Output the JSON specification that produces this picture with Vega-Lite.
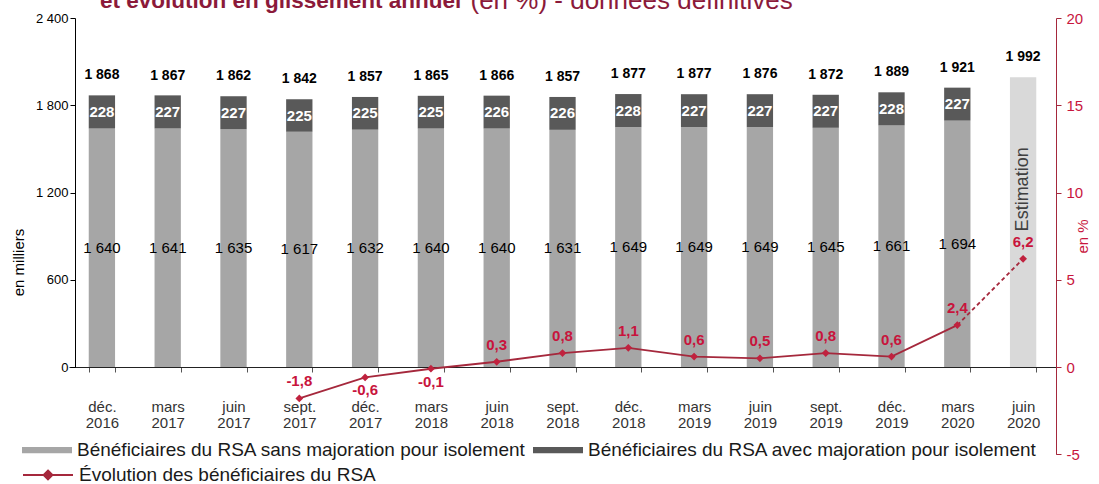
{
  "$schema": "https://vega.github.io/schema/vega-lite/v6.json",
  "width": 987,
  "height": 349,
  "autosize": "none",
  "padding": {"left": 69, "top": 18, "right": 43, "bottom": 117},
  "background": "white",
  "title": {
    "text": "et évolution en glissement annuel",
    "anchor": "start",
    "frame": "group",
    "dx": 31,
    "offset": -43,
    "baseline": "alphabetic",
    "font": "Liberation Sans",
    "fontSize": 22.5,
    "fontWeight": "bold",
    "color": "#8b1a3a"
  },
  "config": {
    "locale": {"number": {"decimal": ",", "thousands": " ", "grouping": [3], "currency": ["", " €"], "minus": "-"}},
    "view": {"stroke": null},
    "font": "Liberation Sans",
    "axis": {"grid": false}
  },
  "datasets": {
    "barres": [
      {"periode": "déc. 2016", "serie": "Bénéficiaires du RSA sans majoration pour isolement", "valeur": 1640},
      {"periode": "déc. 2016", "serie": "Bénéficiaires du RSA avec majoration pour isolement", "valeur": 228},
      {"periode": "mars 2017", "serie": "Bénéficiaires du RSA sans majoration pour isolement", "valeur": 1641},
      {"periode": "mars 2017", "serie": "Bénéficiaires du RSA avec majoration pour isolement", "valeur": 227},
      {"periode": "juin 2017", "serie": "Bénéficiaires du RSA sans majoration pour isolement", "valeur": 1635},
      {"periode": "juin 2017", "serie": "Bénéficiaires du RSA avec majoration pour isolement", "valeur": 227},
      {"periode": "sept. 2017", "serie": "Bénéficiaires du RSA sans majoration pour isolement", "valeur": 1617},
      {"periode": "sept. 2017", "serie": "Bénéficiaires du RSA avec majoration pour isolement", "valeur": 225},
      {"periode": "déc. 2017", "serie": "Bénéficiaires du RSA sans majoration pour isolement", "valeur": 1632},
      {"periode": "déc. 2017", "serie": "Bénéficiaires du RSA avec majoration pour isolement", "valeur": 225},
      {"periode": "mars 2018", "serie": "Bénéficiaires du RSA sans majoration pour isolement", "valeur": 1640},
      {"periode": "mars 2018", "serie": "Bénéficiaires du RSA avec majoration pour isolement", "valeur": 225},
      {"periode": "juin 2018", "serie": "Bénéficiaires du RSA sans majoration pour isolement", "valeur": 1640},
      {"periode": "juin 2018", "serie": "Bénéficiaires du RSA avec majoration pour isolement", "valeur": 226},
      {"periode": "sept. 2018", "serie": "Bénéficiaires du RSA sans majoration pour isolement", "valeur": 1631},
      {"periode": "sept. 2018", "serie": "Bénéficiaires du RSA avec majoration pour isolement", "valeur": 226},
      {"periode": "déc. 2018", "serie": "Bénéficiaires du RSA sans majoration pour isolement", "valeur": 1649},
      {"periode": "déc. 2018", "serie": "Bénéficiaires du RSA avec majoration pour isolement", "valeur": 228},
      {"periode": "mars 2019", "serie": "Bénéficiaires du RSA sans majoration pour isolement", "valeur": 1649},
      {"periode": "mars 2019", "serie": "Bénéficiaires du RSA avec majoration pour isolement", "valeur": 227},
      {"periode": "juin 2019", "serie": "Bénéficiaires du RSA sans majoration pour isolement", "valeur": 1649},
      {"periode": "juin 2019", "serie": "Bénéficiaires du RSA avec majoration pour isolement", "valeur": 227},
      {"periode": "sept. 2019", "serie": "Bénéficiaires du RSA sans majoration pour isolement", "valeur": 1645},
      {"periode": "sept. 2019", "serie": "Bénéficiaires du RSA avec majoration pour isolement", "valeur": 227},
      {"periode": "déc. 2019", "serie": "Bénéficiaires du RSA sans majoration pour isolement", "valeur": 1661},
      {"periode": "déc. 2019", "serie": "Bénéficiaires du RSA avec majoration pour isolement", "valeur": 228},
      {"periode": "mars 2020", "serie": "Bénéficiaires du RSA sans majoration pour isolement", "valeur": 1694},
      {"periode": "mars 2020", "serie": "Bénéficiaires du RSA avec majoration pour isolement", "valeur": 227}
    ],
    "totaux": [
      {"periode": "déc. 2016", "total": 1868},
      {"periode": "mars 2017", "total": 1867},
      {"periode": "juin 2017", "total": 1862},
      {"periode": "sept. 2017", "total": 1842},
      {"periode": "déc. 2017", "total": 1857},
      {"periode": "mars 2018", "total": 1865},
      {"periode": "juin 2018", "total": 1866},
      {"periode": "sept. 2018", "total": 1857},
      {"periode": "déc. 2018", "total": 1877},
      {"periode": "mars 2019", "total": 1877},
      {"periode": "juin 2019", "total": 1876},
      {"periode": "sept. 2019", "total": 1872},
      {"periode": "déc. 2019", "total": 1889},
      {"periode": "mars 2020", "total": 1921},
      {"periode": "juin 2020", "total": 1992}
    ],
    "estimation": [
      {"periode": "juin 2020", "total": 1992, "libelle": "Estimation"}
    ],
    "evolution": [
      {"periode": "sept. 2017", "evolution": -1.8},
      {"periode": "déc. 2017", "evolution": -0.6},
      {"periode": "mars 2018", "evolution": -0.1},
      {"periode": "juin 2018", "evolution": 0.3},
      {"periode": "sept. 2018", "evolution": 0.8},
      {"periode": "déc. 2018", "evolution": 1.1},
      {"periode": "mars 2019", "evolution": 0.6},
      {"periode": "juin 2019", "evolution": 0.5},
      {"periode": "sept. 2019", "evolution": 0.8},
      {"periode": "déc. 2019", "evolution": 0.6},
      {"periode": "mars 2020", "evolution": 2.4},
      {"periode": "juin 2020", "evolution": 6.2}
    ],
    "tendance": [
      {"periode": "mars 2020", "evolution": 2.4},
      {"periode": "juin 2020", "evolution": 6.2}
    ]
  },
  "encoding": {
    "x": {
      "field": "periode",
      "type": "nominal",
      "sort": null,
      "scale": {
        "domain": ["déc. 2016", "mars 2017", "juin 2017", "sept. 2017", "déc. 2017", "mars 2018", "juin 2018", "sept. 2018", "déc. 2018", "mars 2019", "juin 2019", "sept. 2019", "déc. 2019", "mars 2020", "juin 2020"],
        "paddingInner": 0.6,
        "paddingOuter": 0.3
      },
      "axis": {
        "title": null,
        "labelAngle": 0,
        "labelExpr": "split(datum.label, ' ')",
        "labelFontSize": 15,
        "labelColor": "#333333",
        "labelLineHeight": 16,
        "labelPadding": 27,
        "tickBand": "extent",
        "tickSize": 5,
        "tickColor": "#555555",
        "domainColor": "#222222",
        "labelFont": "Liberation Sans"
      }
    }
  },
  "layer": [
    {
      "layer": [
        {
          "data": {"name": "barres"},
          "mark": {"type": "bar"},
          "encoding": {
            "y": {
              "field": "valeur", "type": "quantitative", "stack": "zero",
              "scale": {"domain": [0, 2400], "nice": false},
              "title": "en milliers",
              "axis": {
                "orient": "left",
                "values": [0, 600, 1200, 1800, 2400],
                "format": ",d",
                "offset": -6,
                "labelFontSize": 13,
                "labelColor": "#000000",
                "tickSize": 5,
                "tickColor": "#000000",
                "domainColor": "#000000",
                "titleFontSize": 15,
                "titleFontWeight": "normal",
                "titleColor": "#000000",
                "titleX": -57,
                "titleY": 244,
                "titleAlign": "center",
                "titleBaseline": "middle",
                "titleAngle": 270
              }
            },
            "fill": {
              "field": "serie", "type": "nominal",
              "scale": {
                "domain": ["Bénéficiaires du RSA sans majoration pour isolement", "Bénéficiaires du RSA avec majoration pour isolement"],
                "range": ["#a6a6a6", "#595959"]
              },
              "legend": {
                "title": null,
                "orient": "none",
                "direction": "horizontal",
                "columns": 2,
                "legendX": -47,
                "legendY": 407,
                "symbolType": "M-1,-0.125H1V0.125H-1Z",
                "symbolSize": 2500,
                "symbolStrokeWidth": 0,
                "labelFontSize": 19,
                "labelFont": "Liberation Sans",
                "labelColor": "#1a1a1a",
                "labelOffset": 5,
                "columnPadding": 7,
                "labelLimit": 600
              }
            },
            "order": {"field": "serie", "sort": "descending"}
          }
        },
        {
          "data": {"name": "estimation"},
          "mark": {"type": "bar", "color": "#d9d9d9"},
          "encoding": {
            "y": {"field": "total", "type": "quantitative", "scale": {"domain": [0, 2400], "nice": false}, "title": "en milliers"}
          }
        },
        {
          "data": {"name": "totaux"},
          "mark": {"type": "text", "fontWeight": "bold", "fontSize": 14, "baseline": "alphabetic", "dy": -16, "color": "#000000"},
          "encoding": {
            "y": {"field": "total", "type": "quantitative", "scale": {"domain": [0, 2400], "nice": false}, "title": "en milliers"},
            "text": {"field": "total", "type": "quantitative", "format": ",d"}
          }
        },
        {
          "data": {"name": "barres"},
          "mark": {"type": "text", "fontSize": 15, "baseline": "middle", "color": "#000000"},
          "encoding": {
            "y": {"field": "valeur", "type": "quantitative", "stack": "zero", "bandPosition": 0.5, "scale": {"domain": [0, 2400], "nice": false}, "title": "en milliers"},
            "order": {"field": "serie", "sort": "descending"},
            "text": {
              "condition": {"test": "indexof(datum.serie, 'sans') >= 0", "field": "valeur", "type": "quantitative", "format": ",d"},
              "value": ""
            }
          }
        },
        {
          "data": {"name": "barres"},
          "mark": {"type": "text", "fontSize": 15, "fontWeight": "bold", "baseline": "middle", "color": "#ffffff"},
          "encoding": {
            "y": {"field": "valeur", "type": "quantitative", "stack": "zero", "bandPosition": 0.5, "scale": {"domain": [0, 2400], "nice": false}, "title": "en milliers"},
            "order": {"field": "serie", "sort": "descending"},
            "text": {
              "condition": {"test": "indexof(datum.serie, 'avec') >= 0", "field": "valeur", "type": "quantitative", "format": ",d"},
              "value": ""
            }
          }
        },
        {
          "data": {"name": "estimation"},
          "mark": {"type": "text", "fontSize": 18, "angle": 270, "align": "right", "baseline": "middle", "dx": -70, "color": "#404040"},
          "encoding": {
            "y": {"field": "total", "type": "quantitative", "scale": {"domain": [0, 2400], "nice": false}, "title": "en milliers"},
            "text": {"field": "libelle", "type": "nominal"}
          }
        }
      ]
    },
    {
      "encoding": {
        "x": {
          "field": "periode",
          "type": "nominal",
          "sort": null,
          "scale": {
            "domain": ["déc. 2016", "mars 2017", "juin 2017", "sept. 2017", "déc. 2017", "mars 2018", "juin 2018", "sept. 2018", "déc. 2018", "mars 2019", "juin 2019", "sept. 2019", "déc. 2019", "mars 2020", "juin 2020"],
            "paddingInner": 0.6,
            "paddingOuter": 0.3
          },
          "axis": {
            "orient": "top",
            "domain": false,
            "ticks": false,
            "labels": false,
            "title": "(en %) - données définitives",
            "titleX": 401,
            "titleY": -10,
            "titleAlign": "left",
            "titleAnchor": null,
            "titleBaseline": "alphabetic",
            "titleAngle": 0,
            "titleFont": "Liberation Sans",
            "titleFontSize": 26,
            "titleFontWeight": "normal",
            "titleColor": "#8b1a3a"
          }
        }
      },
      "layer": [
        {
          "data": {"name": "evolution"},
          "transform": [{"filter": "datum.periode != 'juin 2020'"}],
          "mark": {"type": "line", "strokeWidth": 1.8},
          "encoding": {
            "y": {
              "field": "evolution", "type": "quantitative",
              "scale": {"domain": [-5, 20], "range": [436.25, 0], "nice": false, "zero": false},
              "title": "en %",
              "axis": {
                "orient": "right",
                "values": [-5, 0, 5, 10, 15, 20],
                "labelFontSize": 15,
                "labelColor": "#c8163e",
                "tickColor": "#a5283c",
                "domainColor": "#a5283c",
                "tickSize": 5,
                "labelPadding": 5,
                "titleFontSize": 15,
                "titleFontWeight": "normal",
                "titleColor": "#c8163e",
                "titleX": 26,
                "titleY": 218,
                "titleAlign": "center",
                "titleBaseline": "middle",
                "titleAngle": 270
              }
            },
            "stroke": {
              "datum": "Évolution des bénéficiaires du RSA",
              "scale": {"range": ["#a5283c"]},
              "legend": {
                "title": null,
                "orient": "none",
                "legendX": -47,
                "legendY": 431,
                "symbolType": "M-1,0H1M0,-0.18L0.18,0L0,0.18L-0.18,0Z",
                "symbolSize": 2500,
                "symbolStrokeWidth": 1.8,
                "labelFontSize": 19,
                "labelFont": "Liberation Sans",
                "labelColor": "#1a1a1a",
                "labelOffset": 5,
                "labelLimit": 600,
                "encode": {"symbols": {"update": {"fill": {"value": "#a5283c"}, "stroke": {"value": "#a5283c"}}}}
              }
            }
          }
        },
        {
          "data": {"name": "tendance"},
          "mark": {"type": "line", "strokeWidth": 1.8, "strokeDash": [4, 3], "color": "#a5283c"},
          "encoding": {
            "y": {"field": "evolution", "type": "quantitative", "title": "en %"}
          }
        },
        {
          "data": {"name": "evolution"},
          "mark": {"type": "point", "shape": "diamond", "filled": true, "size": 60, "opacity": 1, "color": "#c0223e"},
          "encoding": {
            "y": {"field": "evolution", "type": "quantitative", "title": "en %"}
          }
        },
        {
          "data": {"name": "evolution"},
          "transform": [{"filter": "!(datum.evolution < 0 && datum.evolution > -1)"}],
          "mark": {"type": "text", "fontSize": 15, "fontWeight": "bold", "baseline": "alphabetic", "dy": -12, "color": "#c8143c"},
          "encoding": {
            "y": {"field": "evolution", "type": "quantitative", "title": "en %"},
            "text": {"field": "evolution", "type": "quantitative", "format": ".1f"}
          }
        },
        {
          "data": {"name": "evolution"},
          "transform": [{"filter": "datum.evolution < 0 && datum.evolution > -1"}],
          "mark": {"type": "text", "fontSize": 15, "fontWeight": "bold", "baseline": "alphabetic", "dy": 18, "color": "#c8143c"},
          "encoding": {
            "y": {"field": "evolution", "type": "quantitative", "title": "en %"},
            "text": {"field": "evolution", "type": "quantitative", "format": ".1f"}
          }
        }
      ]
    }
  ],
  "resolve": {"scale": {"y": "independent"}, "axis": {"y": "independent", "x": "independent"}}
}
